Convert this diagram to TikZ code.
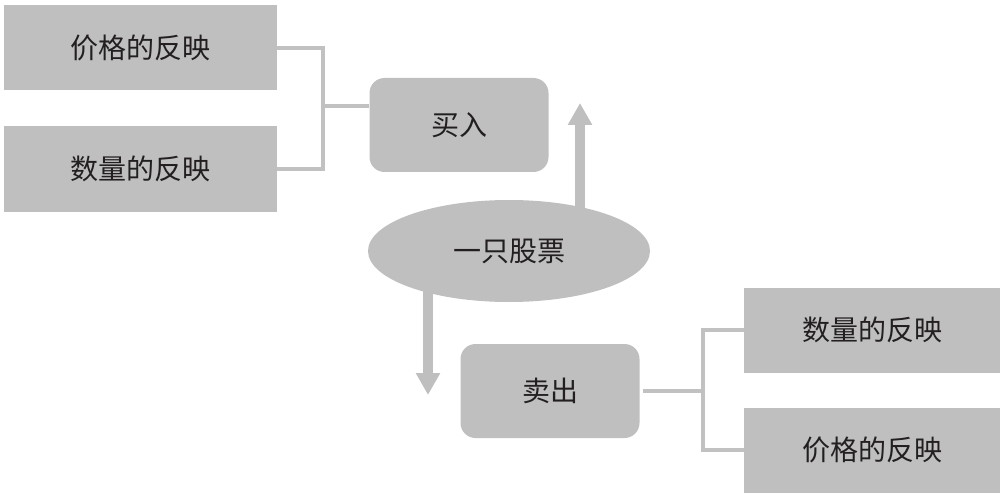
\documentclass[tikz,border=0pt]{standalone}
\usepackage{fontspec}
\setmainfont{Noto Sans CJK SC}
\usetikzlibrary{arrows.meta,shapes.geometric,backgrounds}
\definecolor{boxgray}{RGB}{191,191,191}
\definecolor{linegray}{RGB}{193,193,193}
\definecolor{txt}{RGB}{35,31,32}
\begin{document}
\begin{tikzpicture}[x=1pt,y=-1pt,
  every node/.style={font=\fontsize{28}{32}\selectfont, text=txt, inner sep=0pt},
  sqbox/.style={rectangle, fill=boxgray, minimum width=273pt, minimum height=85pt},
  rbox/.style={rectangle, rounded corners=15pt, fill=boxgray, minimum width=179pt, minimum height=94pt},
  rsqbox/.style={rectangle, fill=boxgray, minimum width=256pt, minimum height=85pt},
  conn/.style={draw=linegray, line width=4pt},
  bigarrow/.style={draw=boxgray, line width=10pt, -{Triangle[width=23pt,length=22pt]}}]
\useasboundingbox (0,0) rectangle (1007,500);
\node[sqbox] (b1) at (140.5,48) {价格的反映};
\node[sqbox] (b2) at (140.5,169) {数量的反映};
\node[rbox] (buy) at (459,125) {买入};
\node[ellipse, fill=boxgray, minimum width=282pt, minimum height=102pt] (stock) at (509,251) {一只股票};
\node[rbox] (sell) at (550,391) {卖出};
\node[rsqbox] (r1) at (872,330) {数量的反映};
\node[rsqbox] (r2) at (872,450) {价格的反映};
\coordinate (jl) at (323,106);
\coordinate (jr) at (703,391);
\coordinate (upTip) at (580,103);
\coordinate (downTip) at (428,395);
\draw[conn] (b1.east) -| (jl) |- (b2.east);
\draw[conn] (jl) -- (jl -| buy.west);
\draw[conn] ([xshift=3pt]sell.east) -- (jr);
\draw[conn] (r1.west) -| (jr) |- (r2.west);
\begin{scope}[on background layer]
\draw[bigarrow] (upTip |- stock.center) -- (upTip);
\draw[bigarrow] (downTip |- stock.center) -- (downTip);
\end{scope}
\end{tikzpicture}
\end{document}
